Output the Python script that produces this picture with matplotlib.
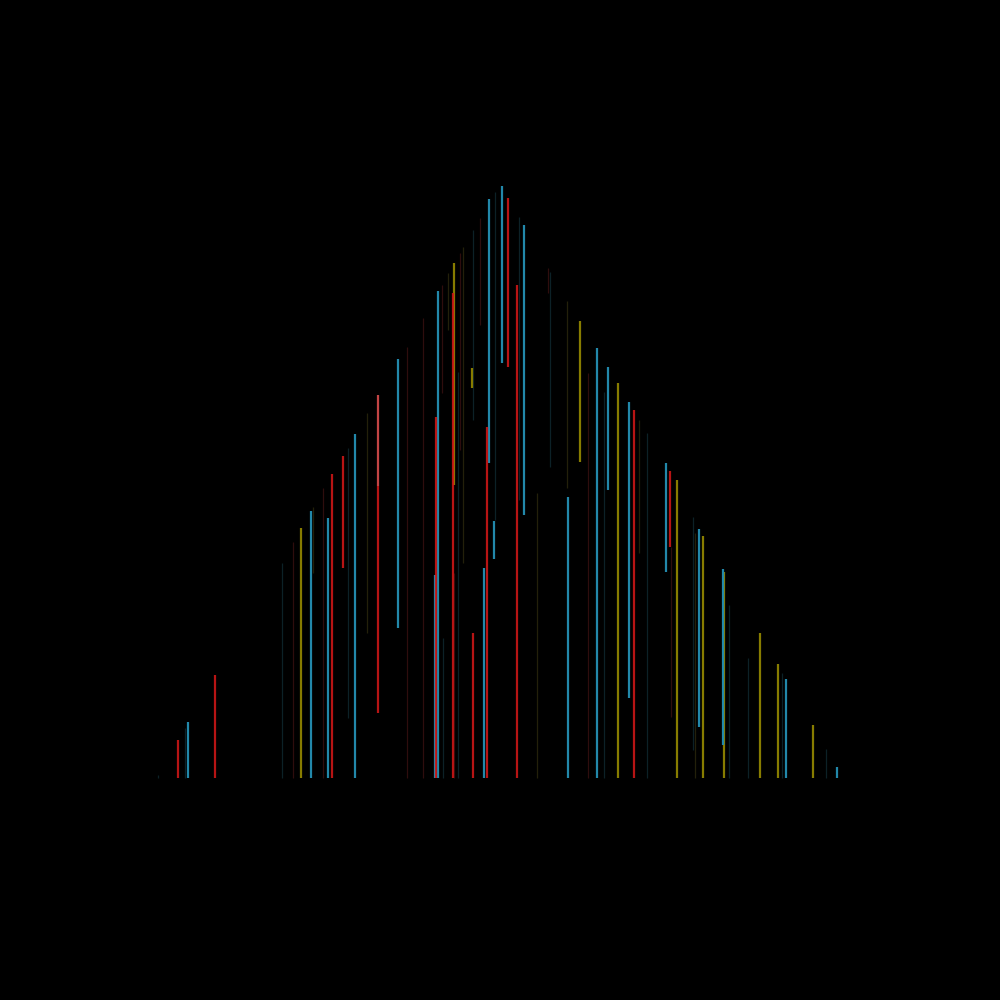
import matplotlib
matplotlib.use("Agg")
import matplotlib.pyplot as plt
import numpy as np

# couleurs des traits
palette = {
    "red": "#cc1717",
    "pink": "#c24444",
    "cyan": "#2288aa",
    "olive": "#877c00",
    "dk_red": "#2e0d0d",
    "dk_olive": "#23200a",
    "dk_teal": "#0c2127",
}

# segments verticaux : position, haut, bas, couleur
seg_x = [158, 178, 185, 188, 215, 282, 293, 301, 311, 313,
         323, 328, 332, 343, 348, 355, 367, 378, 378, 398,
         407, 423, 435, 436, 438, 442, 443, 448, 454, 453,
         454, 458, 460, 463, 472, 473, 473, 480, 484, 487,
         489, 494, 495, 502, 508, 517, 519, 524, 537, 548,
         550, 567, 568, 580, 588, 597, 604, 608, 618, 629,
         634, 639, 647, 666, 670, 671, 677, 693, 695, 699,
         703, 723, 724, 729, 748, 760, 778, 782, 786, 813,
         826, 837]
seg_top = [3, 38, 50, 56, 103, 215, 236, 250, 267, 271,
           290, 260, 304, 322, 330, 344, 365, 292, 383, 419,
           431, 460, 203, 361, 487, 493, 140, 505, 515, 485,
           205, 406, 525, 531, 410, 548, 145, 560, 210, 351,
           579, 257, 586, 592, 580, 493, 561, 553, 285, 510,
           506, 477, 281, 457, 405, 430, 386, 411, 395, 376,
           368, 358, 345, 315, 307, 231, 298, 261, 245, 249,
           242, 209, 206, 173, 120, 145, 114, 105, 99, 53,
           29, 11]
seg_bot = [0, 0, 0, 0, 0, 0, 0, 0, 0, 205,
           0, 0, 0, 210, 60, 0, 145, 65, 292, 150,
           0, 0, 0, 0, 0, 385, 0, 448, 293, 0,
           0, 0, 328, 215, 390, 358, 0, 453, 0, 0,
           315, 219, 258, 415, 411, 0, 278, 263, 0, 485,
           311, 290, 0, 316, 0, 0, 0, 288, 0, 80,
           0, 225, 0, 206, 231, 61, 0, 28, 0, 51,
           0, 33, 0, 0, 0, 0, 0, 0, 0, 0,
           0, 0]
seg_col = ["dk_teal", "red", "dk_teal", "cyan", "red", "dk_teal", "dk_red", "olive", "cyan", "dk_olive",
           "dk_red", "cyan", "red", "red", "dk_teal", "cyan", "dk_olive", "red", "pink", "cyan",
           "dk_red", "dk_red", "cyan", "red", "cyan", "dk_red", "dk_teal", "dk_olive", "olive", "red",
           "dk_red", "dk_teal", "dk_red", "dk_olive", "olive", "dk_teal", "red", "dk_red", "cyan", "red",
           "cyan", "cyan", "dk_teal", "cyan", "red", "red", "dk_teal", "cyan", "dk_olive", "dk_red",
           "dk_teal", "dk_olive", "cyan", "olive", "dk_red", "cyan", "dk_teal", "cyan", "olive", "cyan",
           "red", "dk_olive", "dk_teal", "cyan", "red", "dk_red", "olive", "dk_teal", "dk_olive", "cyan",
           "olive", "cyan", "olive", "dk_teal", "dk_teal", "olive", "olive", "dk_teal", "cyan", "olive",
           "dk_teal", "cyan"]

fig = plt.figure(figsize=(10, 10), dpi=100, facecolor="black")
ax = fig.add_axes([0, 0, 1, 1])
ax.set_facecolor("black")

x = np.array(seg_x)
top = np.array(seg_top)
bot = np.array(seg_bot)
col = np.array(seg_col)
# les traits sombres d'abord, les colorés par dessus
for key in ["dk_red", "dk_olive", "dk_teal", "olive", "cyan", "pink", "red"]:
    m = col == key
    lw = 0.9 if key.startswith("dk") else 1.6
    ax.vlines(x[m], bot[m], top[m], colors=palette[key], linewidth=lw, alpha=0.9 if key == "red" else 1.0)

ax.set_xlim(0, 1000)
ax.set_ylim(-222, 778)
ax.axis("off")
fig.savefig("out.png", dpi=100, facecolor="black")
